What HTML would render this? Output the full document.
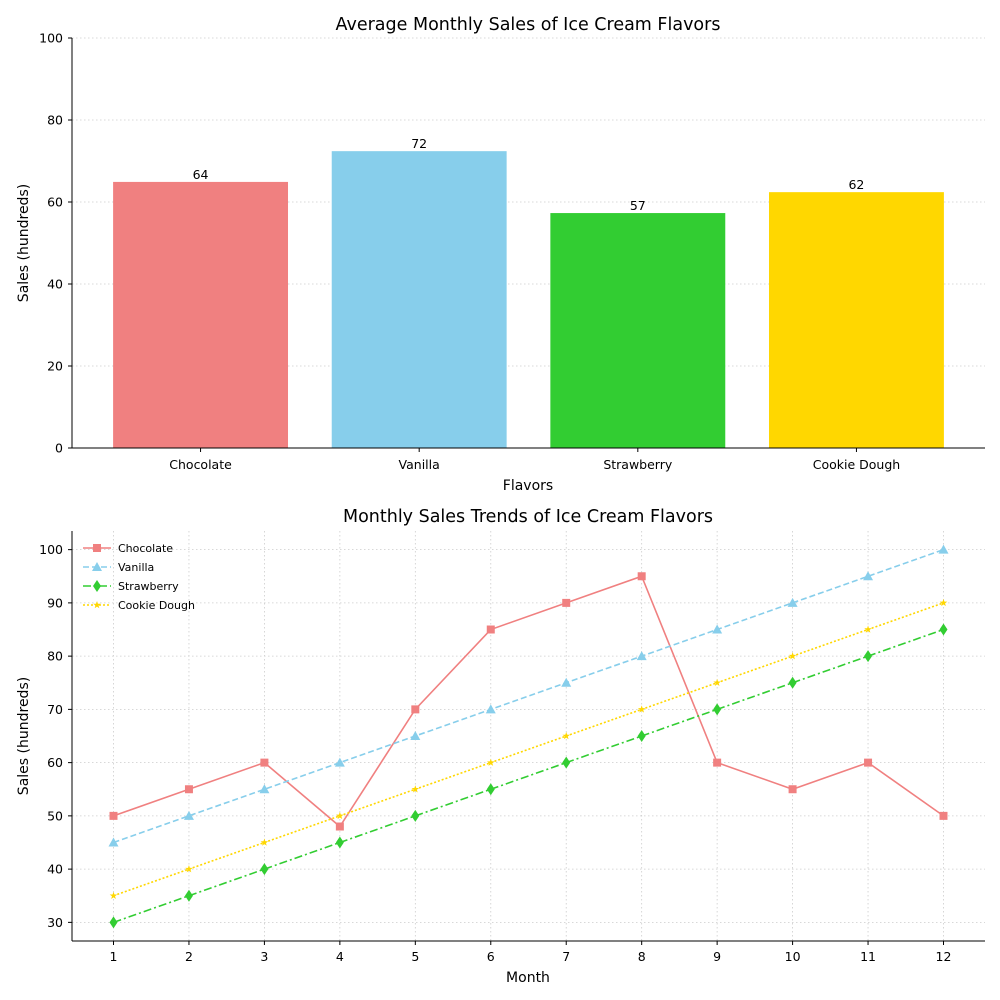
<!DOCTYPE html>
<html><head><meta charset="utf-8"><style>
body{margin:0;background:#fff;}
svg{display:block;font-family:"DejaVu Sans","Liberation Sans",sans-serif;}
</style></head><body>
<svg id="c" width="1000" height="1000" viewBox="0 0 1000 1000"></svg>
<script>
const flavors=["Chocolate","Vanilla","Strawberry","Cookie Dough"];
const avgSales=[64.9,72.4,57.3,62.4];
const avgLabels=["64","72","57","62"];
const barColors=["#f08080","#87ceeb","#32cd32","#ffd700"];
const topTicks=[0,20,40,60,80,100];
const months=[1,2,3,4,5,6,7,8,9,10,11,12];
const chocolate=[50,55,60,48,70,85,90,95,60,55,60,50];
const vanilla=[45,50,55,60,65,70,75,80,85,90,95,100];
const strawberry=[30,35,40,45,50,55,60,65,70,75,80,85];
const cookie=[35,40,45,50,55,60,65,70,75,80,85,90];
const botTicks=[30,40,50,60,70,80,90,100];

const svg=document.getElementById('c');
const NS='http://www.w3.org/2000/svg';
function mk(t,a,p){const e=document.createElementNS(NS,t);for(const k in a)e.setAttribute(k,a[k]);(p||svg).appendChild(e);return e;}
function txt(s,a,p){const e=mk('text',a,p);e.textContent=s;return e;}

// ---------- top chart ----------
const L=72,R=985,T1=38,B1=448;
const y1=v=>B1-(v/100)*(B1-T1);
const xl0=-0.588,xl1=3.588;
const unit=(R-L)/(xl1-xl0);
const xc=i=>L+(i-xl0)*unit;
const bw=0.8*unit;
for(const v of topTicks){
  const g=mk('line',{x1:L,x2:R,y1:y1(v),y2:y1(v),stroke:'#ccc','stroke-dasharray':'1.5,2.5','stroke-width':0.8});
  
  
  mk('line',{x1:L-4,x2:L,y1:y1(v),y2:y1(v),stroke:'#000'});
  const t=txt(v,{x:L-9,y:y1(v)+4.5,'text-anchor':'end','font-size':12.5});
  
  
}
flavors.forEach((f,i)=>{
  const r=mk('rect',{x:xc(i)-bw/2,y:y1(avgSales[i]),width:bw,height:B1-y1(avgSales[i]),fill:barColors[i]});
  
  
  const l=txt(avgLabels[i],{x:xc(i),y:y1(avgSales[i])-3,'text-anchor':'middle','font-size':12.5});
  
  
  mk('line',{x1:xc(i),x2:xc(i),y1:B1,y2:B1+4,stroke:'#000'});
  const t=txt(f,{x:xc(i),y:B1+21,'text-anchor':'middle','font-size':12.5});
  
  
});
mk('line',{x1:L,x2:L,y1:T1,y2:B1,stroke:'#000'});
mk('line',{x1:L,x2:R,y1:B1,y2:B1,stroke:'#000'});
let e=txt('Average Monthly Sales of Ice Cream Flavors',{x:528,y:30,'text-anchor':'middle','font-size':17.5});

e=txt('Flavors',{x:528,y:490,'text-anchor':'middle','font-size':14});

e=txt('Sales (hundreds)',{x:28,y:243,'text-anchor':'middle','font-size':14,transform:'rotate(-90 28 243)'});


// ---------- bottom chart ----------
const T2=531,B2=941;
const ymin=26.5,ymax=103.5;
const x2=m=>L+(m-0.45)/(12.1)*(R-L);
const y2=v=>B2-(v-ymin)/(ymax-ymin)*(B2-T2);
for(const v of botTicks){
  mk('line',{x1:L,x2:R,y1:y2(v),y2:y2(v),stroke:'#ccc','stroke-dasharray':'1.5,2.5','stroke-width':0.8});
  mk('line',{x1:L-4,x2:L,y1:y2(v),y2:y2(v),stroke:'#000'});
  const t=txt(v,{x:L-9,y:y2(v)+4.5,'text-anchor':'end','font-size':12.5});
  
  
}
for(const m of months){
  mk('line',{x1:x2(m),x2:x2(m),y1:T2,y2:B2,stroke:'#ccc','stroke-dasharray':'1.5,2.5','stroke-width':0.8});
  mk('line',{x1:x2(m),x2:x2(m),y1:B2,y2:B2+4,stroke:'#000'});
  const t=txt(m,{x:x2(m),y:B2+20,'text-anchor':'middle','font-size':12.5});
  
  
}
function marker(type,x,y,c,p){
  if(type==='s')return mk('rect',{x:x-4,y:y-4,width:8,height:8,fill:c},p);
  if(type==='^')return mk('polygon',{points:`${x},${y-5} ${x-5},${y+4} ${x+5},${y+4}`,fill:c},p);
  if(type==='d')return mk('polygon',{points:`${x},${y-6} ${x-4},${y} ${x},${y+6} ${x+4},${y}`,fill:c},p);
  const pts=[];for(let k=0;k<10;k++){const r=k%2?1.6:4;const a=-Math.PI/2+k*Math.PI/5;pts.push((x+r*Math.cos(a))+','+(y+r*Math.sin(a)));}
  return mk('polygon',{points:pts.join(' '),fill:c},p);
}
const series=[
  {name:'Chocolate',data:chocolate,color:'#f08080',dash:'',m:'s'},
  {name:'Vanilla',data:vanilla,color:'#87ceeb',dash:'6,3',m:'^'},
  {name:'Strawberry',data:strawberry,color:'#32cd32',dash:'8,3,2,3',m:'d'},
  {name:'Cookie Dough',data:cookie,color:'#ffd700',dash:'2,2',m:'*'}
];
series.forEach(s=>{
  const g=mk('g',{});
  
  
  mk('polyline',{points:s.data.map((v,i)=>x2(months[i])+','+y2(v)).join(' '),fill:'none',stroke:s.color,'stroke-width':1.6,'stroke-dasharray':s.dash},g);
  s.data.forEach((v,i)=>marker(s.m,x2(months[i]),y2(v),s.color,g));
});
mk('line',{x1:L,x2:L,y1:T2,y2:B2,stroke:'#000'});
mk('line',{x1:L,x2:R,y1:B2,y2:B2,stroke:'#000'});
// legend
const lg=mk('g',{});


series.forEach((s,i)=>{
  const y=548+i*19;
  const g=mk('g',{},lg);
  
  
  mk('line',{x1:83,x2:111,y1:y,y2:y,stroke:s.color,'stroke-width':1.6,'stroke-dasharray':s.dash},g);
  marker(s.m,97,y,s.color,g);
  txt(s.name,{x:118,y:y+4,'font-size':11},g);
});
e=txt('Monthly Sales Trends of Ice Cream Flavors',{x:528,y:522,'text-anchor':'middle','font-size':17.5});

e=txt('Month',{x:528,y:982,'text-anchor':'middle','font-size':14});

e=txt('Sales (hundreds)',{x:28,y:736,'text-anchor':'middle','font-size':14,transform:'rotate(-90 28 736)'});

</script>
</body></html>
